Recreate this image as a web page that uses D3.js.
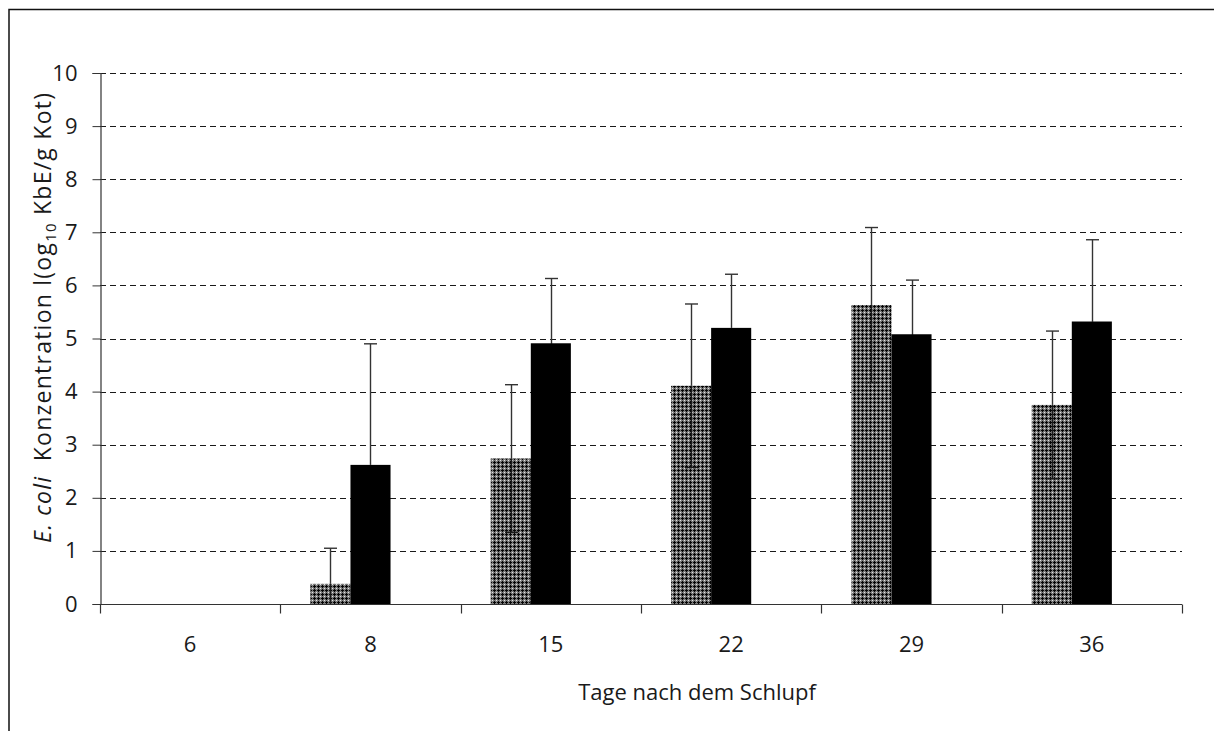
<!DOCTYPE html>
<html>
<head>
<meta charset="utf-8">
<script src="https://cdn.jsdelivr.net/npm/d3@7"></script>
<style>
  html, body { margin: 0; padding: 0; background: #fff; }
  svg { display: block; }
  text { font-family: "Open Sans", "Noto Sans", sans-serif; fill: #1a1a1a; }
</style>
</head>
<body>
<svg id="chart" width="1214" height="731"></svg>
<script>
// Days after hatching
const categories = ["6", "8", "15", "22", "29", "36"];
// Mean E. coli counts (log10 CFU/g faeces) and standard deviations
const seriesA = [null, 0.38, 2.74, 4.11, 5.63, 3.75];
const errorsA = [null, 0.67, 1.39, 1.54, 1.46, 1.39];
const seriesB = [null, 2.62, 4.91, 5.20, 5.08, 5.32];
const errorsB = [null, 2.28, 1.22, 1.01, 1.02, 1.54];
const yTicks = [0, 1, 2, 3, 4, 5, 6, 7, 8, 9, 10];

const svg = d3.select("#chart");
const margin = { left: 100, right: 32, top: 73, bottom: 127 };
const W = 1214, H = 731;

// frame around the figure
svg.append("rect")
  .attr("x", 9).attr("y", 9.5)
  .attr("width", 1220).attr("height", 740)
  .attr("fill", "none").attr("stroke", "#111").attr("stroke-width", 1.5);

// dotted fill for the first series
const defs = svg.append("defs");
const pat = defs.append("pattern")
  .attr("id", "dots").attr("patternUnits", "userSpaceOnUse")
  .attr("width", 4).attr("height", 4);
pat.append("rect").attr("width", 4).attr("height", 4).attr("fill", "#7a7a7a");
pat.append("rect").attr("x", 0).attr("y", 0).attr("width", 1).attr("height", 1).attr("fill", "#e4e4e4");
pat.append("rect").attr("x", 2).attr("y", 1).attr("width", 1).attr("height", 3).attr("fill", "#050505");
pat.append("rect").attr("x", 1).attr("y", 2).attr("width", 3).attr("height", 1).attr("fill", "#050505");

const x0 = d3.scaleBand()
  .domain(categories)
  .range([margin.left, W - margin.right])
  .paddingInner(1 / 3)
  .paddingOuter(1 / 6);

// three slots per group; the third stays empty
const x1 = d3.scaleBand()
  .domain([0, 1, 2])
  .range([0, x0.bandwidth()]);

const y = d3.scaleLinear()
  .domain([0, 10])
  .range([H - margin.bottom, margin.top]);

const catStep = x0.step();
const xLeft = margin.left, xRight = W - margin.right;

// dashed gridlines
svg.append("g").selectAll("line")
  .data(yTicks.filter(d => d > 0))
  .join("line")
  .attr("x1", xLeft).attr("x2", xRight)
  .attr("y1", d => Math.round(y(d)) + 0.5).attr("y2", d => Math.round(y(d)) + 0.5)
  .attr("stroke", "#1a1a1a").attr("stroke-width", 1.1)
  .attr("stroke-dasharray", "6,4");

// bars
const rows = categories.map((c, i) => ({ c, a: seriesA[i], ea: errorsA[i], b: seriesB[i], eb: errorsB[i] }));

const bars = [];
rows.forEach(r => {
  if (r.a != null) bars.push({ c: r.c, s: 0, v: r.a, e: r.ea });
  if (r.b != null) bars.push({ c: r.c, s: 1, v: r.b, e: r.eb });
});

svg.append("g").selectAll("rect")
  .data(bars)
  .join("rect")
  .attr("x", d => x0(d.c) + x1(d.s))
  .attr("width", x1.bandwidth())
  .attr("y", d => y(d.v))
  .attr("height", d => y(0) - y(d.v))
  .attr("fill", d => d.s === 0 ? "url(#dots)" : "#000");

// error bars: the lower half sits on the bar and takes its ink
const eg = svg.append("g").attr("stroke-width", 1.4);
bars.forEach(d => {
  const cx = Math.round(x0(d.c) + x1(d.s) + x1.bandwidth() / 2) + 0.5;
  const top = y(d.v);
  const hi = y(d.v + d.e);
  const loV = d.v - d.e;
  const lo = y(Math.max(0, loV));
  const upInk = "#333";
  const lowInk = d.s === 0 ? "#1a1a1a" : "#000";
  eg.append("line").attr("stroke", upInk).attr("x1", cx).attr("x2", cx).attr("y1", hi).attr("y2", top);
  eg.append("line").attr("stroke", upInk).attr("x1", cx - 6.5).attr("x2", cx + 6.5).attr("y1", hi).attr("y2", hi);
  eg.append("line").attr("stroke", lowInk).attr("x1", cx).attr("x2", cx).attr("y1", top).attr("y2", lo);
  if (loV > 0) eg.append("line").attr("stroke", lowInk).attr("x1", cx - 6.5).attr("x2", cx + 6.5).attr("y1", lo).attr("y2", lo);
});

// y axis
const yAxis = d3.axisLeft(y).tickValues(yTicks).tickSize(8).tickPadding(15).tickFormat(d3.format("d"));
const gy = svg.append("g").attr("transform", `translate(${xLeft + 0.5},0)`).call(yAxis);
gy.select(".domain").attr("stroke", "#333").attr("stroke-width", 1.2);
gy.selectAll(".tick line").attr("stroke", "#333");
gy.selectAll(".tick text").style("font-size", "22px").attr("fill", "#1a1a1a");

// x axis with boundary ticks between groups
const xAxisY = Math.round(y(0)) + 0.5;
svg.append("line").attr("x1", xLeft).attr("x2", xRight)
  .attr("y1", xAxisY).attr("y2", xAxisY)
  .attr("stroke", "#333").attr("stroke-width", 1.2);
const bounds = d3.range(categories.length + 1).map(i => xLeft + i * catStep);
svg.append("g").selectAll("line")
  .data(bounds)
  .join("line")
  .attr("x1", d => Math.round(d) + 0.5).attr("x2", d => Math.round(d) + 0.5)
  .attr("y1", xAxisY).attr("y2", xAxisY + 9)
  .attr("stroke", "#333").attr("stroke-width", 1.2);
svg.append("g").selectAll("text")
  .data(categories)
  .join("text")
  .attr("x", d => x0(d) + x0.bandwidth() / 2)
  .attr("y", xAxisY + 47)
  .attr("text-anchor", "middle")
  .style("font-size", "22px")
  .text(d => d);

// axis titles
svg.append("text")
  .attr("x", 697)
  .attr("y", 700)
  .attr("text-anchor", "middle")
  .style("font-size", "22px")
  .text("Tage nach dem Schlupf");

const yt = svg.append("text")
  .attr("transform", "translate(51,318) rotate(-90)")
  .attr("text-anchor", "middle")
  .attr("textLength", 450)
  .attr("lengthAdjust", "spacing")
  .style("font-size", "23px");
yt.append("tspan").style("font-style", "italic").text("E. coli");
yt.append("tspan").text("\u00a0 Konzentration l(og");
yt.append("tspan").attr("dy", 5).style("font-size", "15px").text("10");
yt.append("tspan").attr("dy", -5).text(" KbE/g Kot)");
</script>
</body>
</html>
